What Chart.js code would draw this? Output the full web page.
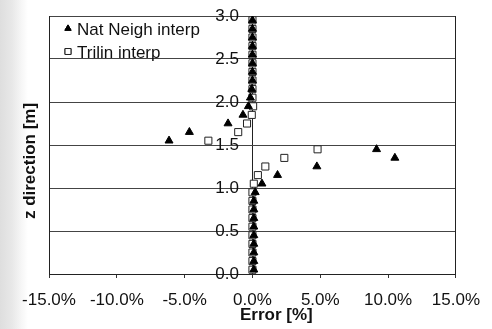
<!DOCTYPE html>
<html>
<head>
<meta charset="utf-8">
<script src="https://cdn.jsdelivr.net/npm/chart.js@4"></script>
<style>
  html, body { margin: 0; padding: 0; }
  body {
    width: 492px; height: 329px; overflow: hidden;
    background: linear-gradient(to right, #dedede 0px, #e8e8e8 12px, #f7f7f7 22px, #ffffff 28px);
  }
  canvas { display: block; }
</style>
</head>
<body>
<canvas id="foutGrafiek" width="492" height="329"></canvas>
<script>
// Hoogte (z) van de meetpunten [m]
const zWaarden = [0.05, 0.15, 0.25, 0.35, 0.45, 0.55, 0.65, 0.75, 0.85, 0.95,
                  1.05, 1.15, 1.25, 1.35, 1.45, 1.55, 1.65, 1.75, 1.85, 1.95,
                  2.05, 2.15, 2.25, 2.35, 2.45, 2.55, 2.65, 2.75, 2.85, 2.95];

// Fout [%] per methode
const natNeighFout = [0.1, 0.1, 0.1, 0.1, 0.1, 0.1, 0.1, 0.1, 0.1, 0.2,
                      0.7, 1.85, 4.75, 10.5, 9.15, -6.15, -4.65, -1.8, -0.7, -0.3,
                      -0.15, -0.05, 0.0, 0.0, 0.0, 0.0, 0.0, 0.0, 0.0, 0.0];
const trilinFout = [0.0, 0.0, 0.0, 0.0, 0.0, 0.0, 0.0, 0.0, 0.0, 0.0,
                    0.1, 0.4, 0.95, 2.35, 4.8, -3.25, -1.05, -0.4, -0.05, 0.05,
                    0.0, 0.0, 0.0, 0.0, 0.0, 0.0, 0.0, 0.0, 0.0, 0.0];

const reeksNamen = ["Nat Neigh interp", "Trilin interp"];
const xLabels = ["-15.0%", "-10.0%", "-5.0%", "0.0%", "5.0%", "10.0%", "15.0%"];
const yLabels = ["0.0", "0.5", "1.0", "1.5", "2.0", "2.5", "3.0"];
const xTitel = "Error [%]";
const yTitel = "z direction [m]";

const lettertype = "'Liberation Sans', Arial, sans-serif";

// Punten opbouwen uit de arrays
function maakPunten(fouten) {
  return fouten.map((x, i) => ({ x: x, y: zWaarden[i] }));
}

// Kader, legenda en astitels tekenen
const kaderPlugin = {
  id: "kader",
  afterDraw(chart) {
    const { ctx, chartArea } = chart;
    const links = Math.round(chartArea.left) + 0.5;
    const rechts = Math.round(chartArea.right) - 0.5;
    ctx.save();
    ctx.strokeStyle = "#222";
    ctx.lineWidth = 1;
    ctx.beginPath();
    ctx.moveTo(links, chartArea.top);
    ctx.lineTo(links, chartArea.bottom);
    ctx.moveTo(rechts, chartArea.top);
    ctx.lineTo(rechts, chartArea.bottom);
    ctx.stroke();

    // legenda
    const sets = chart.data.datasets;
    const rijen = [34.5, 57.5];
    sets.forEach((ds, i) => {
      Chart.helpers.drawPoint(ctx, {
        pointStyle: ds.pointStyle,
        radius: i === 0 ? 3.6 : 4.2,
        borderWidth: 1
      }, chartArea.left + 19, rijen[i] - 6);
      ctx.fillStyle = ds.backgroundColor;
      ctx.strokeStyle = ds.borderColor;
      ctx.fill();
      ctx.stroke();
      ctx.fillStyle = "#111";
      ctx.font = "17px " + lettertype;
      ctx.textAlign = "left";
      ctx.textBaseline = "alphabetic";
      ctx.fillText(reeksNamen[i], chartArea.left + 28, rijen[i]);
    });

    // astitels
    ctx.font = "bold 17px " + lettertype;
    ctx.fillStyle = "#111";
    ctx.textAlign = "left";
    ctx.fillText(xTitel, 240, 320);
    ctx.translate(35, 161);
    ctx.rotate(-Math.PI / 2);
    ctx.textAlign = "center";
    ctx.fillText(yTitel, 0, 0);
    ctx.restore();
  }
};

const grafiek = new Chart(document.getElementById("foutGrafiek"), {
  type: "scatter",
  data: {
    datasets: [
      {
        label: reeksNamen[0],
        data: maakPunten(natNeighFout),
        pointStyle: "triangle",
        pointRadius: 4.6,
        backgroundColor: "#000",
        borderColor: "#000",
        borderWidth: 1
      },
      {
        label: reeksNamen[1],
        data: maakPunten(trilinFout),
        pointStyle: "rect",
        pointRadius: 5,
        backgroundColor: "#fff",
        borderColor: "#222",
        borderWidth: 1
      }
    ]
  },
  options: {
    responsive: false,
    animation: false,
    layout: { padding: { left: 49, right: 30, top: 16, bottom: 0 } },
    plugins: {
      legend: { display: false },
      tooltip: { enabled: false }
    },
    scales: {
      x: {
        type: "linear",
        min: -15,
        max: 15,
        afterFit: (schaal) => { schaal.height = 55; },
        ticks: {
          stepSize: 5,
          padding: 12,
          color: "#111",
          font: { family: lettertype, size: 17 },
          maxRotation: 0,
          callback: (waarde) => xLabels[Math.round((waarde + 15) / 5)]
        },
        // alleen de nullijn als verticale lijn
        grid: {
          drawOnChartArea: true,
          tickLength: 4,
          tickColor: "#333",
          color: (c) => (c.tick && c.tick.value === 0 ? "#222" : "rgba(0,0,0,0)")
        },
        border: { color: "#222" }
      },
      y: {
        type: "linear",
        min: 0,
        max: 3,
        position: { x: -1.0 },
        ticks: {
          stepSize: 0.5,
          color: "#111",
          font: { family: lettertype, size: 17 },
          callback: (waarde) => yLabels[Math.round(waarde * 2)]
        },
        grid: { color: "#444", drawTicks: false },
        border: { display: false }
      }
    }
  },
  plugins: [kaderPlugin]
});
</script>
</body>
</html>
